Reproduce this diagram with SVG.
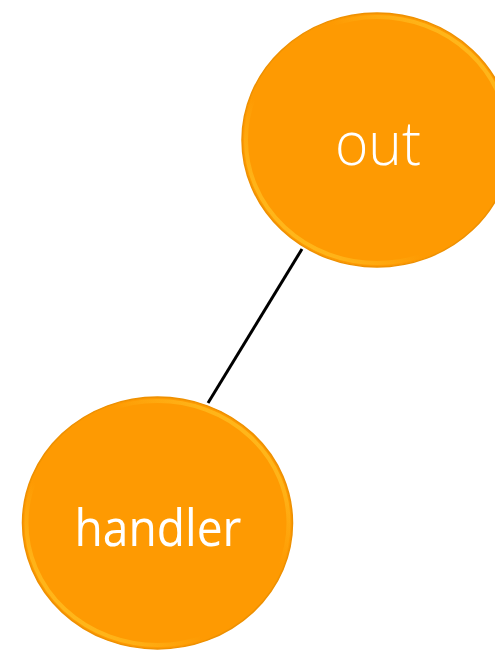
<svg xmlns="http://www.w3.org/2000/svg" width="495" height="651" viewBox="0 0 495 651">
<style>
.node{fill:#FE9A02;stroke:#EE9000;stroke-width:1.5}
.rim{fill:none;stroke:url(#rim);stroke-width:4;opacity:0.85}
.lbl{font-family:"Open Sans","Noto Sans",sans-serif;fill:#FFFFFF;text-anchor:middle}
.edge{stroke:#000000;stroke-width:3;fill:none}
</style>
<defs>
<linearGradient id="rim" x1="0" y1="1" x2="1" y2="0">
<stop offset="0" stop-color="#FFC828"/>
<stop offset="0.18" stop-color="#FFB81C"/>
<stop offset="0.35" stop-color="#FE9A02"/>
<stop offset="0.65" stop-color="#FE9A02"/>
<stop offset="0.82" stop-color="#FFB81C"/>
<stop offset="1" stop-color="#FFC828"/>
</linearGradient>
</defs>
<g id="connectors">
<line class="edge" x1="302" y1="249" x2="208" y2="403"/>
</g>
<g id="node-out">
<ellipse class="node" cx="377" cy="140" rx="135" ry="127"/>
<ellipse class="rim" cx="377" cy="140" rx="131" ry="123"/>
<text class="lbl" x="378" y="165" font-size="60" font-weight="300" textLength="86" lengthAdjust="spacingAndGlyphs">out</text>
</g>
<g id="node-handler">
<ellipse class="node" cx="157.5" cy="523" rx="135" ry="126"/>
<ellipse class="rim" cx="157.5" cy="523" rx="131" ry="122"/>
<text class="lbl" x="158" y="546" font-size="52" textLength="167" lengthAdjust="spacingAndGlyphs">handler</text>
</g>
</svg>
